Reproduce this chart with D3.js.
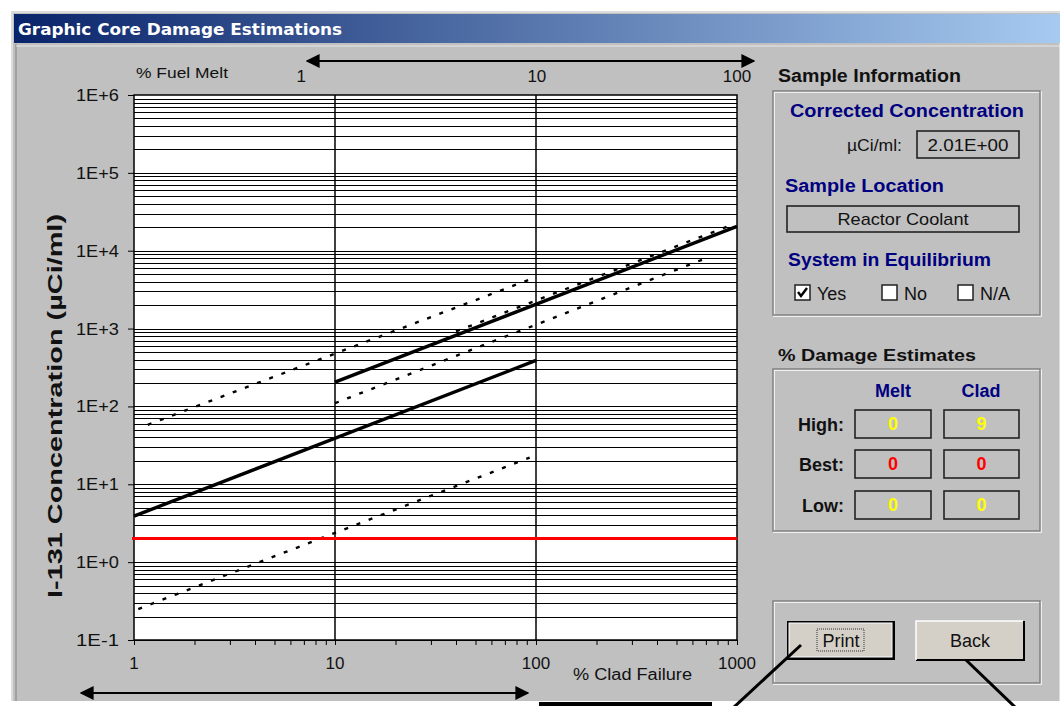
<!DOCTYPE html>
<html>
<head>
<meta charset="utf-8">
<script src="https://cdn.jsdelivr.net/npm/d3@7"></script>
<style>
  html, body { margin: 0; padding: 0; background: #fff; }
  svg { display: block; }
  text { font-family: "Liberation Sans", Arial, sans-serif; }
</style>
</head>
<body>
<svg id="chart" width="1060" height="706"></svg>
<script>
// ----------
// data
var cladTicks = [1, 10, 100, 1000];
var cladTickLabels = ['1', '10', '100', '1000'];
var fuelMeltLabels = ['1', '10', '100'];
var fuelMeltAtClad = [6.8, 101, 1000];
var concTicks = [1e-1, 1e0, 1e1, 1e2, 1e3, 1e4, 1e5, 1e6];
var concTickLabels = ['1E-1', '1E+0', '1E+1', '1E+2', '1E+3', '1E+4', '1E+5', '1E+6'];

var lowerBest = [[1, 3.9], [100, 390]];
var upperBest = [[10, 205], [1000, 20500]];
var lowerBandHigh = [[1.17, 58], [96, 4400]];
var lowerBandLow = [[1.05, 0.25], [93, 22]];
var upperBandHigh = [[40, 920], [900, 20500]];
var upperBandLow = [[10, 110], [735, 8400]];

var measuredConc = 2.01;

var damageRows = ['High:', 'Best:', 'Low:'];
var meltValues = ['0', '0', '0'];
var cladValues = ['9', '0', '0'];
var damageColors = ['#ffff00', '#ff0000', '#ffff00'];

// ----------
var svg = d3.select('#chart');
var gray = '#c0c0c0';
var navy = '#000080';

// window frame
svg.append('rect').attr('x', 12).attr('y', 12).attr('width', 1048).attr('height', 690).attr('fill', gray);
svg.append('rect').attr('x', 12).attr('y', 12).attr('width', 1048).attr('height', 690)
  .attr('fill', 'none').attr('stroke', '#dcdcdc').attr('stroke-width', 2);
svg.append('line').attr('x1', 16).attr('x2', 16).attr('y1', 44).attr('y2', 702).attr('stroke', '#808080');

var defs = svg.append('defs');
var grad = defs.append('linearGradient').attr('id', 'titlebar');
grad.append('stop').attr('offset', '0%').attr('stop-color', '#0a246a');
grad.append('stop').attr('offset', '100%').attr('stop-color', '#a6caf0');
svg.append('rect').attr('x', 14).attr('y', 14).attr('width', 1046).attr('height', 29).attr('fill', 'url(#titlebar)');
svg.append('text').attr('x', 18).attr('y', 35)
  .attr('fill', '#fff').attr('font-weight', 'bold').attr('font-size', 16)
  .attr('textLength', 324).attr('lengthAdjust', 'spacingAndGlyphs')
  .style('font-family', '"DejaVu Sans", sans-serif')
  .text('Graphic Core Damage Estimations');
svg.append('line').attr('x1', 16).attr('x2', 1060).attr('y1', 46).attr('y2', 46).attr('stroke', '#e8e8e8');

// ----------
// plot
var x = d3.scaleLog().domain([1, 1000]).range([134, 737]);
var y = d3.scaleLog().domain([0.1, 1e6]).range([640, 95]);

var plot = svg.append('g');
plot.append('rect').attr('x', x(1)).attr('y', y(1e6))
  .attr('width', x(1000) - x(1)).attr('height', y(0.1) - y(1e6)).attr('fill', '#fff');

var gridVals = [];
concTicks.forEach(function(d) {
  if (d >= 1e6) return;
  for (var k = 1; k <= 9; k++) gridVals.push(d * k);
});
plot.selectAll('line.hgrid').data(gridVals).enter().append('line')
  .attr('class', 'hgrid')
  .attr('x1', x(1)).attr('x2', x(1000))
  .attr('y1', function(d) { return Math.round(y(d)) + 0.5; })
  .attr('y2', function(d) { return Math.round(y(d)) + 0.5; })
  .attr('stroke', '#000').attr('stroke-width', 1);

plot.selectAll('line.vgrid').data([10, 100]).enter().append('line')
  .attr('class', 'vgrid')
  .attr('x1', function(d) { return x(d); }).attr('x2', function(d) { return x(d); })
  .attr('y1', y(1e6)).attr('y2', y(0.1))
  .attr('stroke', '#000').attr('stroke-width', 1.5);

plot.append('rect').attr('x', x(1)).attr('y', y(1e6))
  .attr('width', x(1000) - x(1)).attr('height', y(0.1) - y(1e6))
  .attr('fill', 'none').attr('stroke', '#000').attr('stroke-width', 1.5);

// axes
var minorTicks = [];
[1, 10, 100].forEach(function(p) {
  for (var k = 1; k <= 9; k++) minorTicks.push(k * p);
});
minorTicks.push(1000);
var bottomAxis = d3.axisBottom(x).tickValues(minorTicks).tickSize(5).tickFormat('');
plot.append('g').attr('transform', 'translate(0,' + y(0.1) + ')').call(bottomAxis)
  .call(function(g) { g.select('.domain').remove(); });

plot.selectAll('text.xlab').data(cladTicks).enter().append('text')
  .attr('class', 'xlab')
  .attr('x', function(d) { return x(d); }).attr('y', 669)
  .attr('text-anchor', 'middle')
  .attr('font-size', 17).attr('fill', '#111')
  .text(function(d, i) { return cladTickLabels[i]; });

var leftAxis = d3.axisLeft(y).tickValues(concTicks).tickSize(6).tickFormat('');
plot.append('g').attr('transform', 'translate(' + x(1) + ',0)').call(leftAxis)
  .call(function(g) { g.select('.domain').remove(); });
plot.selectAll('text.ylab').data(concTicks).enter().append('text')
  .attr('class', 'ylab')
  .attr('x', 119).attr('y', function(d) { return y(d) + 6; })
  .attr('text-anchor', 'end').attr('font-size', 17).attr('fill', '#111')
  .attr('textLength', 43).attr('lengthAdjust', 'spacingAndGlyphs')
  .text(function(d, i) { return concTickLabels[i]; });

plot.selectAll('text.toplab').data(fuelMeltAtClad).enter().append('text')
  .attr('class', 'toplab')
  .attr('x', function(d) { return x(d); }).attr('y', 82)
  .attr('text-anchor', 'middle').attr('font-size', 17).attr('fill', '#111')
  .text(function(d, i) { return fuelMeltLabels[i]; });

svg.append('text').attr('x', 136).attr('y', 78).attr('font-size', 15).attr('fill', '#111')
  .attr('textLength', 92).attr('lengthAdjust', 'spacingAndGlyphs').text('% Fuel Melt');
svg.append('text').attr('x', 573).attr('y', 680).attr('font-size', 16).attr('fill', '#111')
  .attr('textLength', 119).attr('lengthAdjust', 'spacingAndGlyphs').text('% Clad Failure');

var ty = 406, tx = 62;
svg.append('text').attr('x', tx).attr('y', ty)
  .attr('transform', 'rotate(-90 ' + tx + ',' + ty + ')')
  .attr('text-anchor', 'middle').attr('font-weight', 'bold').attr('font-size', 20).attr('fill', '#111')
  .attr('textLength', 384).attr('lengthAdjust', 'spacingAndGlyphs')
  .text('I-131 Concentration (\u00b5Ci/ml)');

// direction arrows
var mk = defs.append('marker').attr('id', 'arrow')
  .attr('viewBox', '0 0 10 10').attr('refX', 9).attr('refY', 5)
  .attr('markerWidth', 14).attr('markerHeight', 14).attr('orient', 'auto-start-reverse')
  .attr('markerUnits', 'userSpaceOnUse');
mk.append('path').attr('d', 'M0,0 L10,5 L0,10 z').attr('fill', '#000');

svg.append('line').attr('x1', 307).attr('x2', 754).attr('y1', 61).attr('y2', 61)
  .attr('stroke', '#000').attr('stroke-width', 2)
  .attr('marker-start', 'url(#arrow)').attr('marker-end', 'url(#arrow)');
svg.append('line').attr('x1', 81).attr('x2', 528).attr('y1', 693).attr('y2', 693)
  .attr('stroke', '#000').attr('stroke-width', 2)
  .attr('marker-start', 'url(#arrow)').attr('marker-end', 'url(#arrow)');

// series
var line = d3.line().x(function(d) { return x(d[0]); }).y(function(d) { return y(d[1]); });
[lowerBandHigh, lowerBandLow, upperBandHigh, upperBandLow].forEach(function(s) {
  plot.append('path').datum(s).attr('d', line)
    .attr('fill', 'none').attr('stroke', '#000').attr('stroke-width', 2.4)
    .attr('stroke-dasharray', '4,9');
});
[lowerBest, upperBest].forEach(function(s) {
  plot.append('path').datum(s).attr('d', line)
    .attr('fill', 'none').attr('stroke', '#000').attr('stroke-width', 3.4);
});
plot.append('line').attr('x1', x(1) - 2).attr('x2', x(1000))
  .attr('y1', y(measuredConc)).attr('y2', y(measuredConc))
  .attr('stroke', '#ff0000').attr('stroke-width', 3);

// ----------
// right panel
function groupBox(x0, y0, w, h) {
  svg.append('rect').attr('x', x0 + 1).attr('y', y0 + 1).attr('width', w).attr('height', h)
    .attr('fill', 'none').attr('stroke', '#fff').attr('stroke-width', 1.5);
  svg.append('rect').attr('x', x0).attr('y', y0).attr('width', w).attr('height', h)
    .attr('fill', 'none').attr('stroke', '#808080').attr('stroke-width', 1.5);
}
function label(tx, ty, str, opts) {
  opts = opts || {};
  var t = svg.append('text').attr('x', tx).attr('y', ty)
    .attr('font-size', opts.size || 15)
    .attr('font-weight', opts.bold ? 'bold' : 'normal')
    .attr('fill', opts.color || '#111')
    .attr('text-anchor', opts.anchor || 'start')
    .text(str);
  if (opts.len) t.attr('textLength', opts.len).attr('lengthAdjust', 'spacingAndGlyphs');
  return t;
}
function valueBox(x0, y0, w, h, str, color, opts) {
  svg.append('rect').attr('x', x0).attr('y', y0).attr('width', w).attr('height', h)
    .attr('fill', gray).attr('stroke', '#222').attr('stroke-width', 1.6);
  opts = opts || {};
  opts.anchor = 'middle';
  opts.color = color;
  label(x0 + w / 2, y0 + h / 2 + 6, str, opts);
}

label(778, 82, 'Sample Information', { bold: true, size: 18, len: 183 });
groupBox(773, 91, 267, 224);
label(790, 117, 'Corrected Concentration', { bold: true, size: 18, color: navy, len: 234 });
label(902, 151, '\u00b5Ci/ml:', { anchor: 'end', size: 16, len: 55 });
valueBox(917, 131, 102, 27, '2.01E+00', '#111', { size: 17, len: 81 });
label(785, 192, 'Sample Location', { bold: true, size: 18, color: navy, len: 159 });
valueBox(787, 206, 232, 26, 'Reactor Coolant', '#111', { size: 17, len: 131 });
label(788, 266, 'System in Equilibrium', { bold: true, size: 18, color: navy, len: 203 });

var checks = [{ x: 795, text: 'Yes', on: true }, { x: 882, text: 'No', on: false }, { x: 958, text: 'N/A', on: false }];
checks.forEach(function(c) {
  svg.append('rect').attr('x', c.x).attr('y', 285).attr('width', 15).attr('height', 15)
    .attr('fill', '#fff').attr('stroke', '#222').attr('stroke-width', 1.5);
  if (c.on) {
    svg.append('path').attr('d', 'M' + (c.x + 3) + ',292 l3,4 l6,-8')
      .attr('fill', 'none').attr('stroke', '#000').attr('stroke-width', 2.4);
  }
  label(c.x + 22, 300, c.text, { size: 18 });
});

label(778, 361, '% Damage Estimates', { bold: true, size: 17, len: 198 });
groupBox(773, 369, 267, 162);
label(893, 397, 'Melt', { bold: true, size: 18, color: navy, anchor: 'middle' });
label(981, 397, 'Clad', { bold: true, size: 18, color: navy, anchor: 'middle' });
var rowY = [410, 450, 491];
damageRows.forEach(function(r, i) {
  label(844, rowY[i] + 21, r, { bold: true, size: 18, anchor: 'end' });
  valueBox(855, rowY[i], 76, 28, meltValues[i], damageColors[i], { bold: true, size: 18 });
  valueBox(944, rowY[i], 75, 28, cladValues[i], damageColors[i], { bold: true, size: 18 });
});

groupBox(773, 601, 267, 82);
// Print (default button)
svg.append('rect').attr('x', 787).attr('y', 621).attr('width', 108).attr('height', 39)
  .attr('fill', '#000');
svg.append('rect').attr('x', 789).attr('y', 623).attr('width', 103).attr('height', 34)
  .attr('fill', '#d4d0c8').attr('stroke', '#fff').attr('stroke-width', 1);
svg.append('rect').attr('x', 817).attr('y', 629).attr('width', 47).attr('height', 22)
  .attr('fill', 'none').attr('stroke', '#333').attr('stroke-width', 1).attr('stroke-dasharray', '1,1');
label(841, 647, 'Print', { anchor: 'middle', size: 18 });
// Back
svg.append('rect').attr('x', 916).attr('y', 621).attr('width', 108).attr('height', 39)
  .attr('fill', '#d4d0c8');
svg.append('path').attr('d', 'M916,660 L1024,660 L1024,621').attr('fill', 'none').attr('stroke', '#000').attr('stroke-width', 2);
svg.append('path').attr('d', 'M916,660 L916,621 L1023,621').attr('fill', 'none').attr('stroke', '#fff').attr('stroke-width', 1.5);
label(970, 647, 'Back', { anchor: 'middle', size: 18 });

// callout marks over the window
svg.append('rect').attr('x', 0).attr('y', 701).attr('width', 1060).attr('height', 5).attr('fill', '#fff');
svg.append('rect').attr('x', 539).attr('y', 702).attr('width', 173).attr('height', 4).attr('fill', '#000');
svg.append('line').attr('x1', 801).attr('y1', 645).attr('x2', 733).attr('y2', 708)
  .attr('stroke', '#000').attr('stroke-width', 3);
svg.append('line').attr('x1', 966).attr('y1', 660).attr('x2', 1016).attr('y2', 708)
  .attr('stroke', '#000').attr('stroke-width', 3);
</script>
</body>
</html>
